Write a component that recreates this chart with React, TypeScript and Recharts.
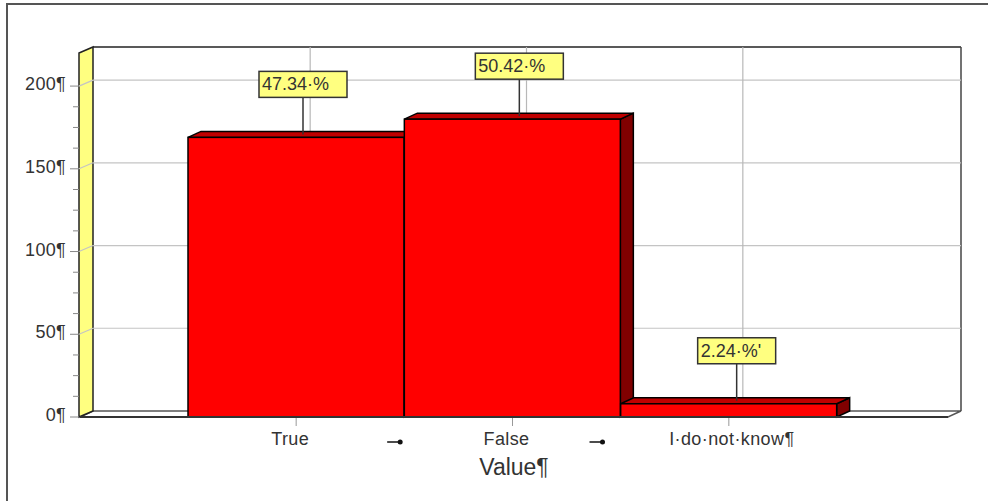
import { BarChart, Bar, XAxis, YAxis, ReferenceLine, LabelList } from 'recharts';

const categories = ['True', 'False', 'I·do·not·know¶'];
const counts = [169, 180, 8];
const percentLabels = ['47.34·%', '50.42·%', "2.24·%'"];
const yTicks = [0, 12.5, 25, 37.5, 50, 62.5, 75, 87.5, 100, 112.5, 125, 137.5, 150, 162.5, 175, 187.5, 200];
const gridValues = [50, 100, 150, 200];

const data = categories.map((name, i) => ({ name, count: counts[i], label: percentLabels[i] }));

const FONT = '"Liberation Sans", Arial, sans-serif';
const DX = 13;
const DY = 6;
const PLOT_H = 364;

function Frame({ x1, x2, y1 }: any) {
  const x = x1;
  const r = x2;
  const b = y1;
  const y = b - PLOT_H;
  return (
    <g>
      <polygon points={`${x},${b} ${x + DX},${b - DY} ${r + DX},${b - DY} ${r},${b}`} fill="#fff" stroke="#555" strokeWidth={1.5} />
      <polygon points={`${x - 1},${y} ${x + DX},${y - DY} ${x + DX},${b - DY} ${x - 1},${b}`} fill="#ffff80" stroke="#222" strokeWidth={1.5} />
      <line x1={x + DX} y1={y - DY} x2={r + DX} y2={y - DY} stroke="#222" strokeWidth={1.5} />
      <line x1={r + DX} y1={y - DY} x2={r + DX} y2={b - DY} stroke="#444" strokeWidth={1.5} />
    </g>
  );
}

function WallLineH({ x1, y1, x2 }: any) {
  return (
    <g stroke="#c4c4c4" strokeWidth={1.2}>
      <line x1={x1 - 1} y1={y1} x2={x1 + DX} y2={y1 - DY} />
      <line x1={x1 + DX} y1={y1 - DY} x2={x2 + DX} y2={y1 - DY} />
    </g>
  );
}

function WallLineV({ x1, y1, y2 }: any) {
  return <line x1={x1 + DX + 1} y1={y1 - DY} x2={x1 + DX + 1} y2={y2 - DY} stroke="#b8b8b8" strokeWidth={1.2} />;
}

function Bar3D({ x, y, width, height }: any) {
  const r = x + width;
  const b = y + height;
  return (
    <g stroke="#000" strokeWidth={1.5}>
      <polygon points={`${r},${y} ${r + DX},${y - DY} ${r + DX},${b - DY} ${r},${b}`} fill="#800000" />
      <polygon points={`${x},${y} ${x + DX},${y - DY} ${r + DX},${y - DY} ${r},${y}`} fill="#c00000" />
      <rect x={x} y={y} width={width} height={height} fill="#ff0000" />
    </g>
  );
}

function Callout({ x, y, width, value }: any) {
  const short = value.startsWith('2.');
  const cx = x + width / 2 + (short ? 8 : 7);
  const boxW = short ? 78 : 88;
  const left = cx - (short ? 39 : 44);
  const top = y - 66;
  return (
    <g>
      <line x1={cx} y1={y - 3} x2={cx} y2={top + 26} stroke="#333" strokeWidth={1.5} />
      <rect x={left} y={top} width={boxW} height={26} fill="#ffff80" stroke="#333" strokeWidth={1.5} />
      <text x={left + 3} y={top + 19} fontFamily={FONT} fontSize={18} fill="#333">{value}</text>
    </g>
  );
}

function YTick({ x, y, payload }: any) {
  const major = payload.value % 50 === 0;
  return (
    <g>
      <line x1={major ? 70 : 73} y1={y} x2={79} y2={y} stroke="#888" strokeWidth={1} />
      {major && (
        <text x={x - 6} y={y + 4} textAnchor="end" fontFamily={FONT} fontSize={18} letterSpacing={0.3} fill="#333">
          {payload.value}¶
        </text>
      )}
    </g>
  );
}

function XTick({ x, y, payload, index }: any) {
  const nudge = index === 2 ? 3 : -6;
  const arrow = index === 0 ? 91 : 77;
  return (
    <g>
      <line x1={x} y1={y - 7} x2={x} y2={y + 1} stroke="#999" strokeWidth={1} />
      <text x={x + nudge} y={y + 20} textAnchor="middle" fontFamily={FONT} fontSize={18} letterSpacing={0.4} fill="#333">
        {payload.value}
      </text>
      {index < 2 && (
        <g>
          <line x1={x + arrow} y1={y + 17} x2={x + arrow + 14} y2={y + 17} stroke="#111" strokeWidth={1.5} />
          <circle cx={x + arrow + 13} cy={y + 17} r={2.5} fill="#111" />
        </g>
      )}
    </g>
  );
}

export default function App() {
  return (
    <div style={{ position: 'absolute', left: 0, top: 0, width: 988, height: 501, background: '#fff', overflow: 'hidden' }}>
      <div style={{ position: 'absolute', left: 6, top: 3, width: 990, height: 510, borderTop: '2px solid #555', borderLeft: '2px solid #555' }} />
      <div style={{ position: 'absolute', left: 0, top: 0 }}>
        <BarChart width={988} height={501} data={data} barCategoryGap={0} margin={{ top: 53, right: 40, bottom: 0, left: 0 }}>
          <XAxis
            dataKey="name"
            height={84}
            padding={{ left: 108, right: 111 }}
            interval={0}
            axisLine={{ stroke: '#333', strokeWidth: 2 }}
            tickLine={false}
            tick={<XTick />}
            label={{ value: 'Value¶', position: 'insideBottom', offset: 26, fontSize: 23, fontFamily: FONT, fill: '#333' }}
          />
          <YAxis width={80} domain={[0, 220]} ticks={yTicks} interval={0} axisLine={false} tickLine={false} tick={<YTick />} />
          <ReferenceLine y={0} ifOverflow="visible" zIndex={50} shape={<Frame />} />
          {gridValues.map(v => (
            <ReferenceLine key={v} y={v} ifOverflow="visible" zIndex={100} shape={<WallLineH />} />
          ))}
          {categories.map(c => (
            <ReferenceLine key={c} x={c} ifOverflow="visible" zIndex={100} shape={<WallLineV />} />
          ))}
          <Bar dataKey="count" isAnimationActive={false} shape={<Bar3D />}>
            <LabelList dataKey="label" content={<Callout />} />
          </Bar>
        </BarChart>
      </div>
    </div>
  );
}
